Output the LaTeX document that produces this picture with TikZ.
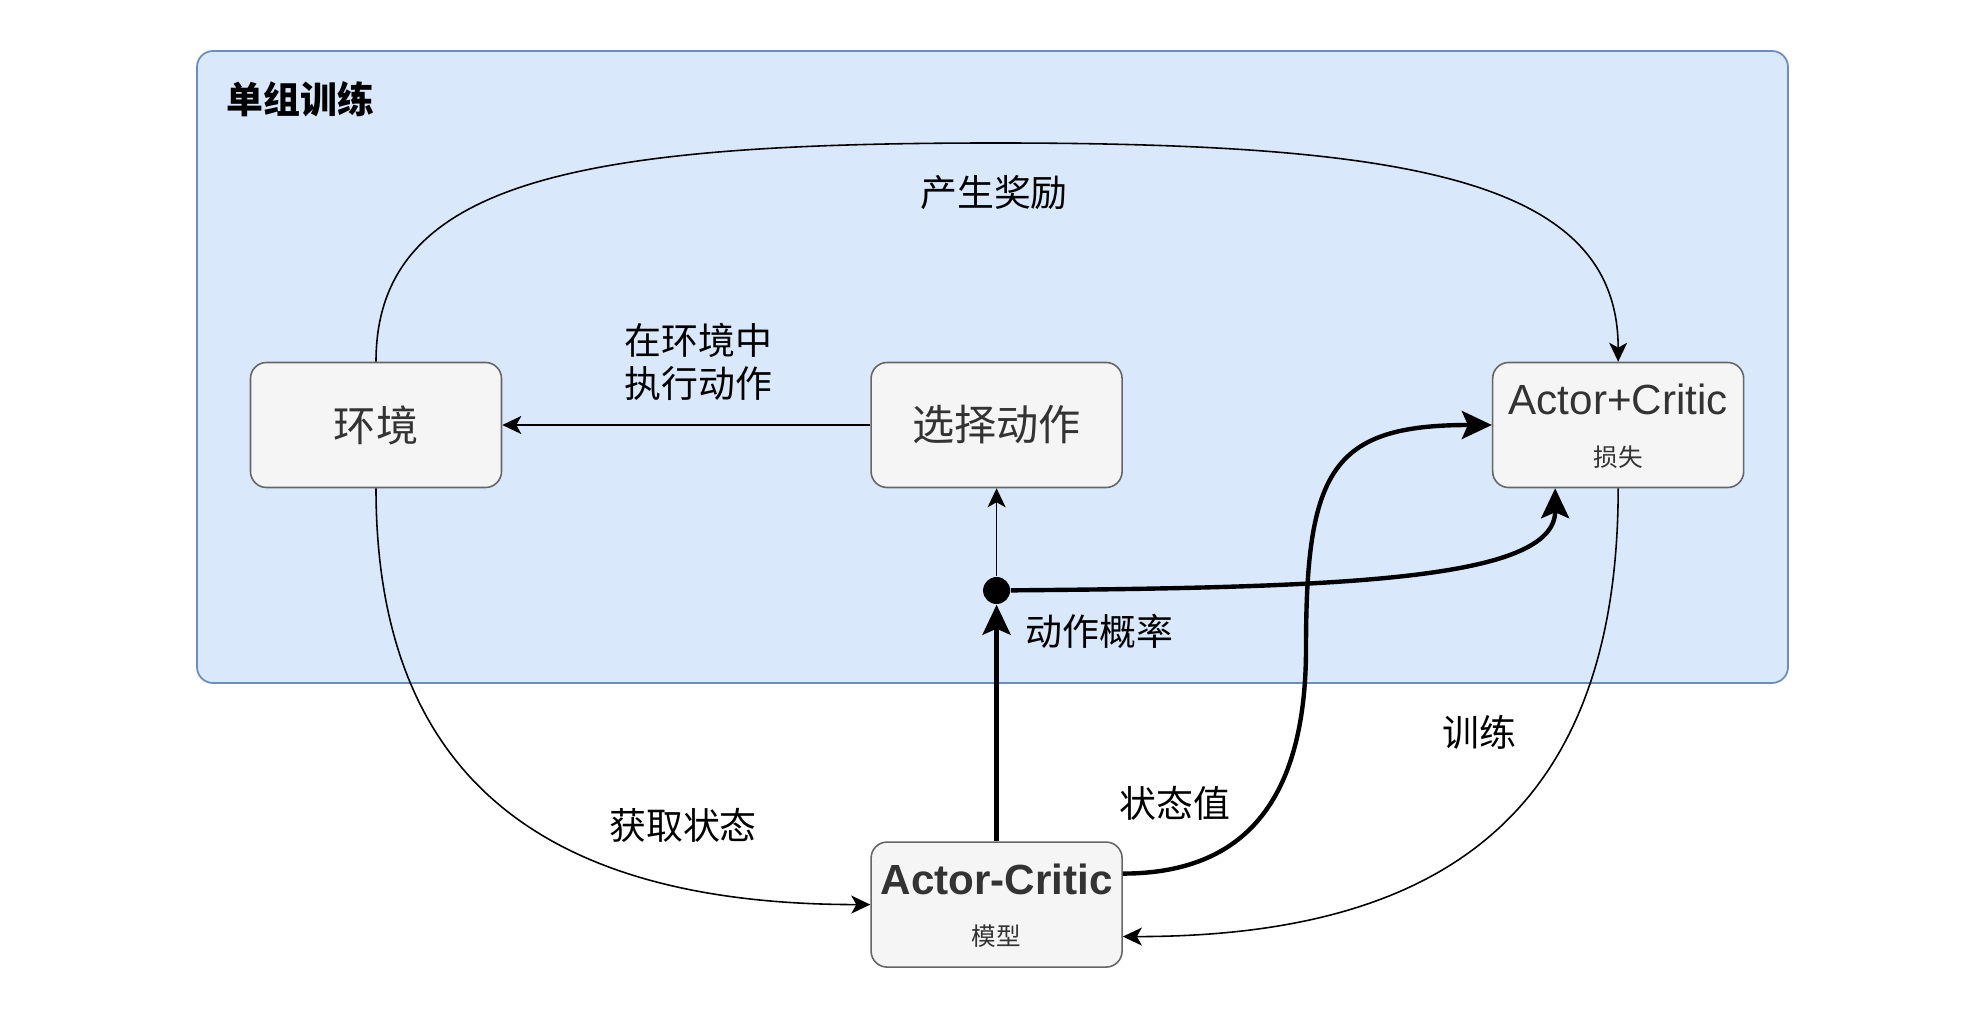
\documentclass[tikz,border=0pt]{standalone}
\usepackage{fontspec}
\setmainfont{Liberation Sans}
\newfontfamily\cjk{Noto Sans CJK SC}
\usetikzlibrary{positioning,arrows.meta}
\definecolor{grpfill}{HTML}{DAE8FC}
\definecolor{grpline}{HTML}{6C8EBF}
\definecolor{boxfill}{HTML}{F5F5F5}
\definecolor{boxline}{HTML}{666666}
\definecolor{boxtext}{HTML}{333333}
\tikzset{
  box/.style={draw=boxline,line width=0.45pt,fill=boxfill,rounded corners=0.16cm,
    minimum width=2.51cm,minimum height=1.25cm,inner sep=1pt,align=center,
    text=boxtext,font=\cjk\fontsize{12}{14.6}\selectfont},
  twoline/.style={text height=25.3pt,text depth=1.8pt},
  lbl/.style={font=\cjk\fontsize{10.5}{12.2}\selectfont,inner sep=1pt,align=center},
  hubdot/.style={circle,fill=black,inner sep=0pt,minimum size=0.27cm},
  flow/.style={-{Stealth[length=1.9mm,width=1.8mm,inset=0.5mm]},line width=0.45pt},
  heavy/.style={-{Stealth[length=3mm,width=2.8mm,inset=0.6mm]},line width=1.25pt},
}
\begin{document}
\begin{tikzpicture}
\useasboundingbox (0,0) rectangle (19.86,10.10);
% group background
\draw[draw=grpline,fill=grpfill,line width=0.5pt,rounded corners=0.16cm]
  (1.97,3.27) rectangle (17.88,9.59);
\node[anchor=west,inner sep=0pt,font=\cjk\bfseries\fontsize{10.5}{12}\selectfont] (title) at (2.26,9.11) {单组训练};

% boxes
\node[box] (env) at (3.76,5.85) {环境};
\node[box,right=3.68cm of env] (sel) {选择动作};
\node[box,twoline,right=3.69cm of sel] (loss) {\rmfamily Actor+Critic\\{\cjk\fontsize{7}{8}\selectfont 损失}};
\node[box,twoline,below=3.53cm of sel] (model) {\rmfamily\bfseries Actor-Critic\\{\cjk\fontsize{7}{8}\selectfont 模型}};
\node[hubdot,below=0.88cm of sel] (hub) {};
\coordinate (crest) at (9.955,8.67);
\coordinate (sbend) at (13.06,3.62);

% connectors
\draw[flow] (sel) -- (env) node[lbl,midway,above=0.2cm,xshift=0.12cm] (exec) {在环境中\\执行动作};
\draw[flow] (hub) -- (sel);
\draw[heavy] (model) -- (hub);
\draw[heavy] (hub) .. controls +(3.4,0.03) and +(0,-0.93) .. ([xshift=-0.63cm]loss.south);
\draw[heavy] ([yshift=0.31cm]model.east) .. controls +(1.3,0) and +(0,-1.42) .. (sbend)
  .. controls +(0,1.78) and +(-1.6,0) .. (loss.west);
\draw[flow] (env.north) .. controls +(0,1.82) and +(-4.15,0) .. (crest)
  .. controls +(4.15,0) and +(0,1.82) .. (loss.north);
\draw[flow] (env.south) .. controls +(0,-3.03) and +(-3.09,0) .. (model.west);
\draw[flow] (loss.south) .. controls +(0,-3.33) and +(3.1,0) .. ([yshift=-0.32cm]model.east);

% labels
\node[lbl] (reward) at (9.94,8.175) {产生奖励};
\node[lbl,anchor=west] (prob) at ([xshift=0.25cm,yshift=-0.41cm]hub.center) {动作概率};
\node[lbl] (state) at (6.83,1.85) {获取状态};
\node[lbl] (value) at (11.75,2.07) {状态值};
\node[lbl] (train) at (14.79,2.78) {训练};
\end{tikzpicture}
\end{document}
